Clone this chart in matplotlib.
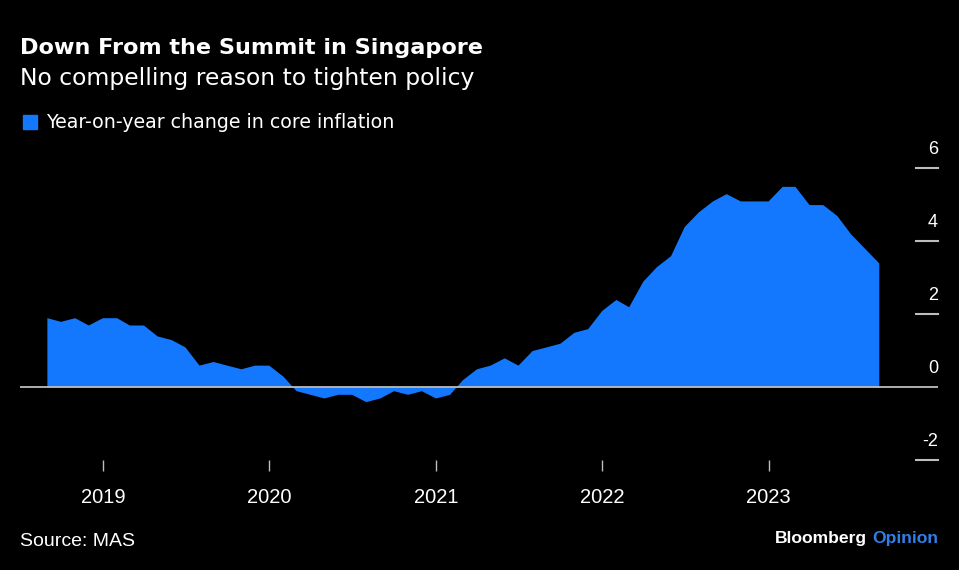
"""Singapur çekirdek enflasyonu — Bloomberg tarzı alan grafiği."""
import pandas as pd
import matplotlib
matplotlib.use("Agg")
import matplotlib.pyplot as plt
import matplotlib.transforms as mtransforms

# Aylık veri (ay sonu), Ağustos 2018 - Ağustos 2023
aylar = pd.date_range("2018-08-31", "2023-08-31", freq="ME")
enflasyon = [
    1.9, 1.8, 1.9, 1.7, 1.9,
    1.9, 1.7, 1.7, 1.4, 1.3, 1.1, 0.6, 0.7, 0.6, 0.5, 0.6, 0.6,
    0.3, -0.1, -0.2, -0.3, -0.2, -0.2, -0.4, -0.3, -0.1, -0.2, -0.1, -0.3,
    -0.2, 0.2, 0.5, 0.6, 0.8, 0.6, 1.0, 1.1, 1.2, 1.5, 1.6, 2.1,
    2.4, 2.2, 2.9, 3.3, 3.6, 4.4, 4.8, 5.1, 5.3, 5.1, 5.1, 5.1,
    5.5, 5.5, 5.0, 5.0, 4.7, 4.2, 3.8, 3.4,
]
yil_etiketleri = ["2019", "2020", "2021", "2022", "2023"]
y_degerleri = [-2, 0, 2, 4, 6]

MAVI = "#1478FF"
GRI = "#bdbdbd"
ARIAL = ["Liberation Sans", "DejaVu Sans"]
GENIS = ["DejaVu Sans"]
plt.rcParams["font.family"] = ARIAL

fig = plt.figure(figsize=(9.59, 5.70), dpi=100, facecolor="black")
W, H = 959, 570
# Eksen: x 20..938 px, y 140..460 px
ax = fig.add_axes([20 / W, (H - 460) / H, (938 - 20) / W, (460 - 140) / H])
ax.set_facecolor("black")

ax.fill_between(aylar, enflasyon, 0, color=MAVI, linewidth=0, zorder=2)
ax.axhline(0, color=GRI, linewidth=1.3, zorder=3)

ax.set_xlim(pd.Timestamp("2018-07-03"), pd.Timestamp("2024-01-08"))
ax.set_ylim(-2, 6.77)

for s in ax.spines.values():
    s.set_visible(False)

# X ekseni - yıl başları
ax.set_xticks([pd.Timestamp(f"{y}-01-01") for y in yil_etiketleri])
ax.set_xticklabels(yil_etiketleri)
ax.tick_params(axis="x", colors=GRI, length=8, width=1, pad=12,
               labelsize=14.5, labelcolor="white")
ax.set_yticks([])

# Y ekseni - sağda kısa çizgiler + üstünde etiketler
tr = mtransforms.blended_transform_factory(ax.transAxes, ax.transData)
for v in y_degerleri:
    if v == 0:
        continue
    ax.plot([1 - 22 / 918, 1], [v, v], color=GRI, linewidth=1.5,
            transform=tr, clip_on=False, zorder=3)
for v in y_degerleri:
    ax.annotate(str(v), (1, v), xycoords=tr, xytext=(0, 7),
                textcoords="offset points", ha="right", va="bottom",
                fontsize=13, color="white")

# Başlıklar
fig.text(20 / W, 1 - 53.5 / H, "Down From the Summit in Singapore",
         fontsize=16.1, fontweight="bold", color="white", va="baseline",
         family=GENIS)
fig.text(20 / W, 1 - 85 / H, "No compelling reason to tighten policy",
         fontsize=16.9, color="white", va="baseline", family=GENIS)
fig.patches.append(plt.Rectangle((23 / W, 1 - 129 / H), 14 / W, 14 / H,
                                 transform=fig.transFigure, color=MAVI))
fig.text(46 / W, 1 - 128.5 / H, "Year-on-year change in core inflation",
         fontsize=13.7, color="white", va="baseline", family=GENIS)

fig.text(20 / W, 1 - 546 / H, "Source: MAS", fontsize=14,
         color="white", va="baseline")
t2 = fig.text(938 / W, 1 - 543 / H, "Opinion", fontsize=12.6,
              fontweight="bold", color="#2F7FE8", ha="right", va="baseline")
fig.canvas.draw()
bb = t2.get_window_extent()
fig.text((bb.x0 - 5) / W, 1 - 543 / H, "Bloomberg", fontsize=12.6,
         fontweight="bold", color="white", ha="right", va="baseline")

fig.savefig("out.png", dpi=100, facecolor="black")
